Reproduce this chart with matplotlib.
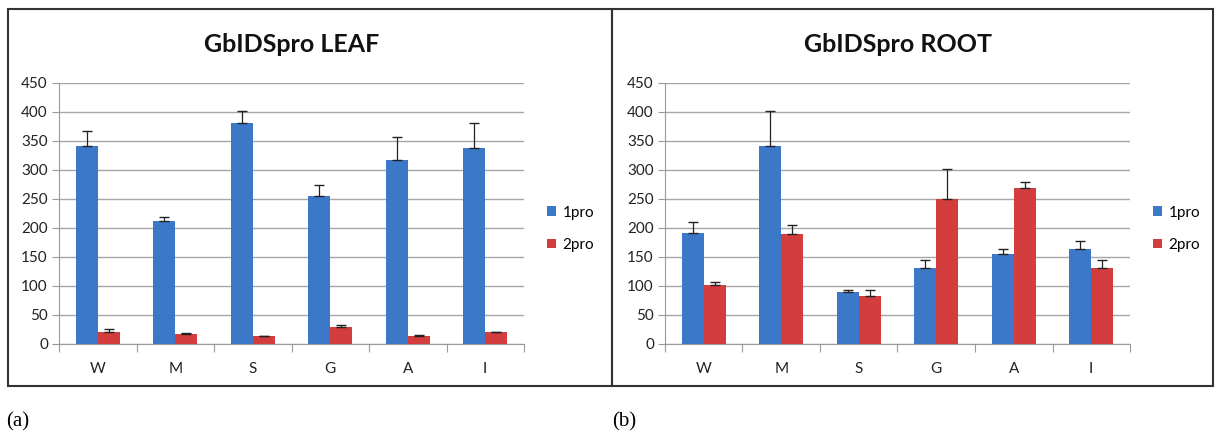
import matplotlib
matplotlib.use('Agg')
import numpy as np
import matplotlib.pyplot as plt
from matplotlib.patches import Rectangle

categories = ['W', 'M', 'S', 'G', 'A', 'I']
series_names = ['1pro', '2pro']

leaf_1pro = [340, 211, 381, 255, 317, 338]
leaf_1pro_err = [27, 8, 21, 18, 39, 42]
leaf_2pro = [21, 17, 13, 28, 14, 20]
leaf_2pro_err = [5, 2, 1, 5, 1, 1]

root_1pro = [191, 341, 89, 130, 155, 163]
root_1pro_err = [19, 60, 4, 14, 8, 14]
root_2pro = [102, 189, 82, 250, 268, 131]
root_2pro_err = [5, 16, 10, 51, 10, 14]

titles = ['GbIDSpro LEAF', 'GbIDSpro ROOT']
captions = ['(a)', '(b)']

blue = '#3b78c8'
red = '#d43d3d'

W, H = 1215, 436
fig = plt.figure(figsize=(W / 100, H / 100), dpi=100)
fig.patch.set_facecolor('white')

# panel frames
for x0, x1 in [(8, 612), (612, 1213)]:
    fig.patches.append(Rectangle((x0 / W, 1 - 386 / H), (x1 - x0) / W, (386 - 9) / H,
                                 transform=fig.transFigure, fill=False,
                                 edgecolor='#333333', linewidth=1.5))

panels = [
    (59, leaf_1pro, leaf_1pro_err, leaf_2pro, leaf_2pro_err),
    (665, root_1pro, root_1pro_err, root_2pro, root_2pro_err),
]

x = np.arange(len(categories))
bw = 1 / 3.5

for i, (left, v1, e1, v2, e2) in enumerate(panels):
    ax = fig.add_axes([left / W, 1 - 343.7 / H, 465 / W, 261 / H])
    ax.bar(x - bw / 2, v1, bw, color=blue, zorder=3, label=series_names[0])
    ax.bar(x + bw / 2, v2, bw, color=red, zorder=3, label=series_names[1])
    ax.errorbar(x - bw / 2, v1, yerr=[np.zeros(len(v1)), e1], fmt='none',
                ecolor='#222222', elinewidth=0.9, capsize=3.5, capthick=1, zorder=4)
    ax.errorbar(x + bw / 2, v2, yerr=[np.zeros(len(v2)), e2], fmt='none',
                ecolor='#222222', elinewidth=0.9, capsize=3.5, capthick=1, zorder=4)

    ax.set_xlim(-0.5, len(categories) - 0.5)
    ax.set_ylim(0, 450)
    ax.set_yticks(np.arange(0, 451, 50))
    ax.yaxis.grid(True, color='#a6a6a6', linewidth=1, zorder=0)
    ax.set_axisbelow(True)

    # category boundary ticks + centered labels
    ax.set_xticks(np.arange(-0.5, len(categories), 1))
    ax.set_xticklabels([])
    ax.set_xticks(x, minor=True)
    ax.set_xticklabels(categories, minor=True, fontsize=11, fontfamily='Lato', color='#222222')
    ax.tick_params(axis='x', which='major', length=6, color='#999999', direction='out')
    ax.tick_params(axis='x', which='minor', length=0, pad=13)
    ax.tick_params(axis='y', length=5, color='#999999', labelsize=11, pad=3, labelcolor='#222222')
    for lab in ax.get_yticklabels():
        lab.set_fontfamily('Lato')

    for s in ['top', 'right']:
        ax.spines[s].set_visible(False)
    ax.spines['left'].set_color('#999999')
    ax.spines['bottom'].set_color('#999999')

    ax.set_title(titles[i], fontsize=18, fontweight='bold', fontfamily='Lato',
                 pad=22, color='#111111')

    ax.legend(loc='center left', bbox_to_anchor=(1.02, 0.44), frameon=False,
              prop={'family': 'Lato', 'size': 11}, handlelength=0.6,
              handleheight=0.6, handletextpad=0.4, labelspacing=1.2)

    fig.text((6 if i == 0 else 612) / W, 1 - 422 / H, captions[i],
             fontsize=15, fontfamily='Liberation Serif', va='center', ha='left',
             fontstretch='condensed')

fig.savefig('out.png', dpi=100, facecolor='white')
